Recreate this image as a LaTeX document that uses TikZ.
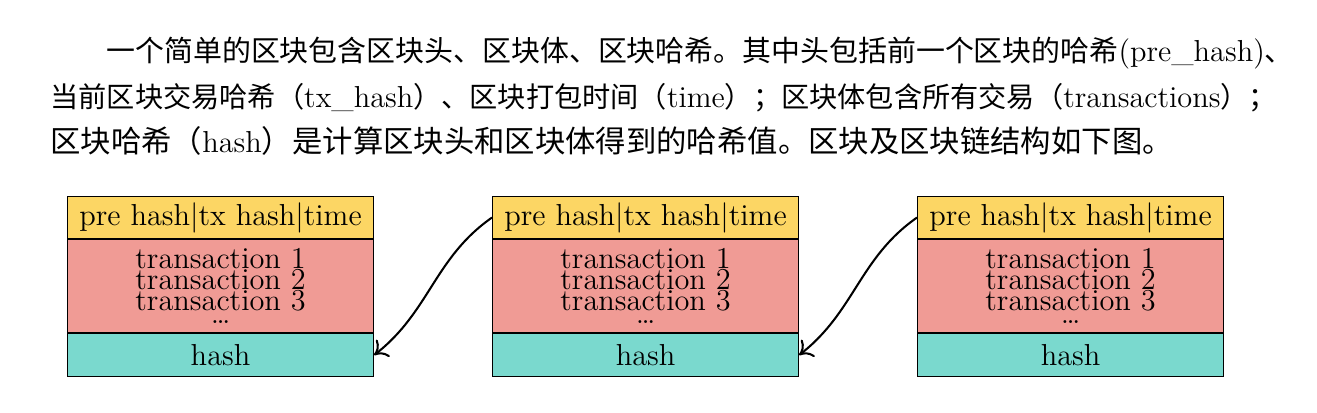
\documentclass[tikz,border=0pt]{standalone}
\usepackage{fontspec}
\newfontfamily\cjk{Noto Sans CJK SC}
\usetikzlibrary{positioning,arrows.meta}
\definecolor{headcol}{RGB}{252,214,100}
\definecolor{bodycol}{RGB}{240,155,149}
\definecolor{hashcol}{RGB}{122,217,206}
\begin{document}
\begin{tikzpicture}[x=0.415pt,y=0.415pt,
  part/.style={draw,line width=0.45pt,minimum width=127pt,inner sep=0pt,font=\fontsize{12.6}{14}\selectfont},
  headpart/.style={part,fill=headcol,minimum height=17.4pt},
  bodypart/.style={part,fill=bodycol,minimum height=38.6pt,align=center,
    font=\fontsize{12.6}{8.7}\selectfont},
  hashpart/.style={part,fill=hashcol,minimum height=17.8pt},
  textline/.style={anchor=base west,inner sep=0pt,font=\fontsize{12.6}{14}\selectfont},
  link/.style={-{To[length=5pt,width=9pt]},line width=0.85pt}]
\useasboundingbox (0,0) rectangle (1317,-412);
% paragraph above the chain
\node[textline] (line1) at (106,-61) {{\cjk\fontsize{12}{14}\selectfont 一个简单的区块包含区块头、区块体、区块哈希。其中头包括前一个区块的哈希}(pre\_hash){\cjk\fontsize{12}{14}\selectfont 、}};
\node[textline] (line2) at (50,-107) {{\cjk\fontsize{11.7}{14}\selectfont 当前区块交易哈希（}tx\_hash{\cjk\fontsize{11.7}{14}\selectfont ）、区块打包时间（}time{\cjk\fontsize{11.7}{14}\selectfont ）；区块体包含所有交易（}transactions{\cjk\fontsize{11.7}{14}\selectfont ）；}};
\node[textline] (line3) at (50,-152) {{\cjk\fontsize{12.6}{14}\selectfont 区块哈希（}hash{\cjk\fontsize{12.6}{14}\selectfont ）是计算区块头和区块体得到的哈希值。区块及区块链结构如下图。}};
% blocks
\foreach \i in {1,2,3} {
  \node[headpart,anchor=north west] (head\i) at ({67+425*(\i-1)},-196) {pre hash|tx hash|time};
  \node[bodypart,below=0pt of head\i] (body\i) {transaction 1\\transaction 2\\transaction 3\\[-3.3pt]\dots};
  \node[hashpart,below=0pt of body\i] (hash\i) {hash};
}
\draw[link] (head2.west) to[out=215,in=38] (hash1.east);
\draw[link] (head3.west) to[out=215,in=38] (hash2.east);
\end{tikzpicture}
\end{document}
